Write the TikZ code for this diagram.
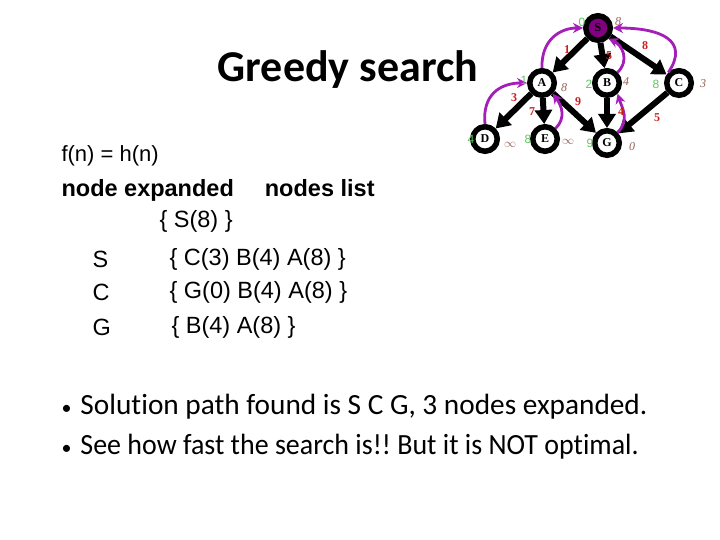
\documentclass[tikz,border=0pt]{standalone}
\usepackage{graphicx}
\usepackage{fontspec}
\setmainfont{Carlito}[Ligatures=NoCommon]
\newfontfamily\arialf{Liberation Sans}
\newfontfamily\timesf{Liberation Serif}
\usetikzlibrary{arrows.meta}
\definecolor{pur}{RGB}{165,30,185}
\definecolor{spur}{RGB}{128,0,128}
\definecolor{gnum}{RGB}{90,200,90}
\definecolor{bnum}{RGB}{150,95,85}
\definecolor{rnum}{RGB}{200,30,30}
\newcommand{\smbul}{{\fontsize{20}{20}\selectfont\textbullet}}
\frenchspacing
\tikzset{
  gnode/.style={circle,draw=black,line width=5.5pt,fill=white,minimum size=24.5pt,inner sep=0pt,font=\timesf\bfseries\fontsize{12}{12}\selectfont},
  edge/.style={line width=6pt,-{Triangle[length=14pt,width=17pt]}},
  back/.style={draw=pur,line width=2.8pt,-{Stealth[length=10pt,width=10pt]}},
  gl/.style={text=gnum,font=\arialf\fontsize{12}{12}\selectfont},
  hl/.style={text=bnum,font=\timesf\itshape\fontsize{12}{12}\selectfont},
  el/.style={text=rnum,font=\timesf\bfseries\fontsize{12}{12}\selectfont},
  lt/.style={anchor=west,font=\arialf\fontsize{23.5}{23.5}\selectfont},
  bt/.style={anchor=west,font=\fontsize{29.3}{29.3}\selectfont}
}
\begin{document}
\begin{tikzpicture}[x=1pt,y=-1pt]
\useasboundingbox (0,0) rectangle (720,540);
% graph nodes
\node[gnode,fill=spur] (S) at (598,28) {S};
\node[gnode] (A) at (542,83) {A};
\node[gnode] (B) at (607,83) {B};
\node[gnode] (C) at (679,83) {C};
\node[gnode] (D) at (485,139) {D};
\node[gnode] (E) at (545,139) {E};
\node[gnode] (G) at (607,143) {G};
% black edges
\draw[edge] (S) -- (A);
\draw[edge] (S) -- (B);
\draw[edge] (S) -- (C);
\draw[edge] (A) -- (D);
\draw[edge] (A) -- (E);
\draw[edge] (A) -- (G);
\draw[edge] (B) -- (G);
\draw[edge] (C) -- (G);
% purple back pointers
\draw[back] (A.north) .. controls (541,40) and (560,28) .. (S.west);
\draw[back] (C.north west) .. controls (690,40) and (660,28) .. (S.east);
\draw[back] (B.north east) .. controls (630,60) and (622,45) .. (S.south east);
\draw[back] (D.north) .. controls (482,95) and (500,83) .. (A.west);
\draw[back] (E.north east) .. controls (566,118) and (562,106) .. (A.south east);
\draw[back] (G.north east) .. controls (630,120) and (622,108) .. (B.south east);
% g values (green)
\node[gl] (gS) at (582,22) {0};
\node[gl] (gA) at (524,80) {1};
\node[gl] (gB) at (589,84) {2};
\node[gl] (gC) at (656,84) {8};
\node[gl] (gD) at (471,139) {4};
\node[gl] (gE) at (528,139) {8};
\node[gl] (gG) at (590,143) {9};
% h values (brown)
\node[hl] (hS) at (618,22) {8};
\node[hl] (hA) at (564,88) {8};
\node[hl] (hB) at (626,82) {4};
\node[hl] (hC) at (703,84) {3};
\node[hl] (hD) at (510,145) {$\infty$};
\node[hl] (hE) at (568,142) {$\infty$};
\node[hl] (hG) at (632,147) {0};
% edge costs (red)
\node[el] (cSA) at (567,50) {1};
\node[el] (cSB) at (609,56) {5};
\node[el] (cSC) at (645,46) {8};
\node[el] (cAD) at (514,98) {3};
\node[el] (cAE) at (532,112) {7};
\node[el] (cAG) at (578,102) {9};
\node[el] (cBG) at (621,112) {4};
\node[el] (cCG) at (657,118) {5};
% title
\node[font=\bfseries\fontsize{44}{44}\selectfont] (title) at (348,70) {Greedy search};
% table
\node[lt,font=\arialf\fontsize{22}{22}\selectfont] (fn) at (58,156) {f(n) = h(n)};
\node[lt,font=\arialf\bfseries\fontsize{23.5}{23.5}\selectfont] (hdr) at (58,190) {node expanded\hspace{31pt}nodes list};
\node[lt] (l0) at (156,221) {\{ S(8) \}};
\node[lt] (n1) at (89,259) {S};
\node[lt] (l1) at (166,259) {\{ C(3) B(4) A(8) \}};
\node[lt] (n2) at (89,292) {C};
\node[lt] (l2) at (166,292) {\{ G(0) B(4) A(8) \}};
\node[lt] (n3) at (89,327) {G};
\node[lt] (l3) at (168,327) {\{ B(4) A(8) \}};
% bullets
\node[bt] (b1) at (58,407) {\smbul\hspace{9pt}Solution path found is S C G, 3 nodes expanded.};
\node[bt] (b2) at (58,447) {\smbul\hspace{9pt}\scalebox{0.954}[1]{See how fast the search is!! But it is NOT optimal.}};
\end{tikzpicture}
\end{document}
